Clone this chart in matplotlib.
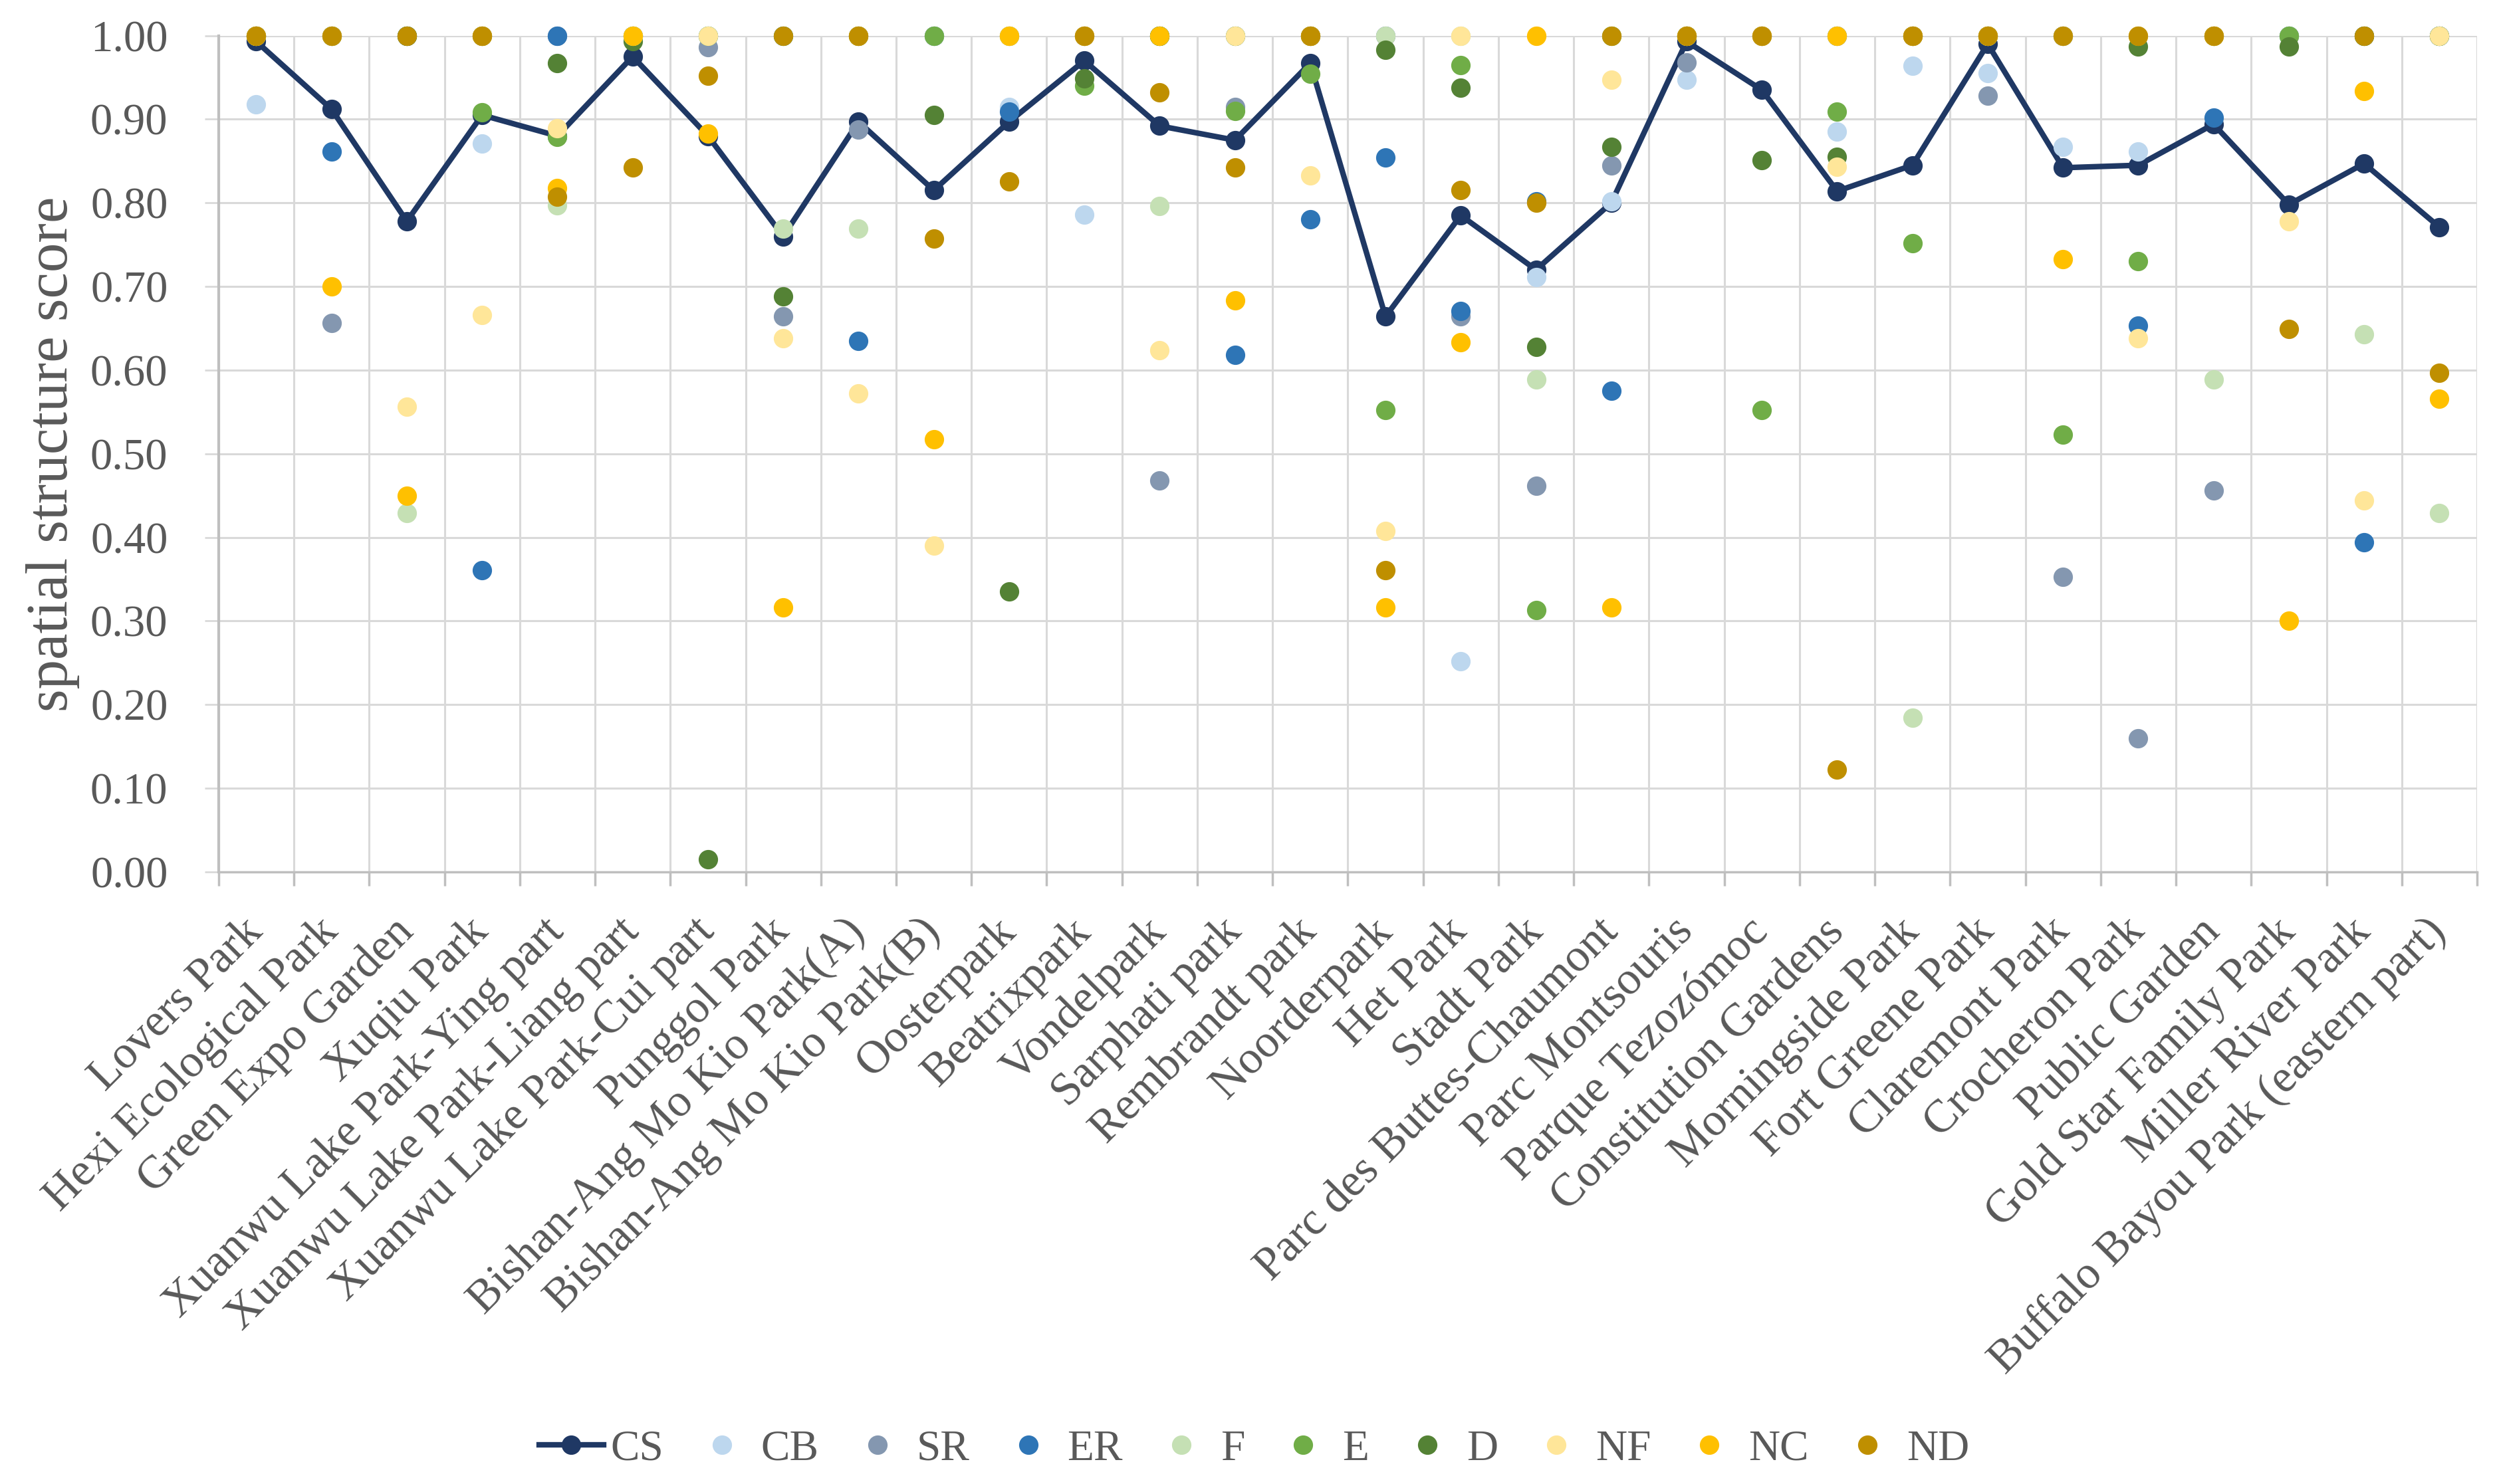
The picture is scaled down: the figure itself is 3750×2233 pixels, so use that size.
import matplotlib
matplotlib.use("Agg")
import matplotlib.pyplot as plt
from matplotlib.lines import Line2D
import numpy as np

plt.rcParams['font.family'] = ['Liberation Serif', 'DejaVu Serif']

parks = ["Lovers Park", "Hexi Ecological Park", "Green Expo Garden", "Xuqiu Park",
         "Xuanwu Lake Park-Ying part", "Xuanwu Lake Park-Liang part", "Xuanwu Lake Park-Cui part",
         "Punggol Park", "Bishan-Ang Mo Kio Park(A)", "Bishan-Ang Mo Kio Park(B)",
         "Oosterpark", "Beatrixpark", "Vondelpark", "Sarphati park", "Rembrandt park",
         "Noorderpark", "Het Park", "Stadt Park", "Parc des Buttes-Chaumont", "Parc Montsouris",
         "Parque Tezozómoc", "Constitution Gardens", "Morningside Park", "Fort Greene Park",
         "Claremont Park", "Crocheron Park", "Public Garden", "Gold Star Family Park",
         "Miller River Park", "Buffalo Bayou Park (eastern part)"]

CS = [0.993, 0.912, 0.778, 0.905, 0.880, 0.975, 0.880, 0.760, 0.897, 0.815,
      0.897, 0.970, 0.892, 0.875, 0.967, 0.664, 0.785, 0.720, 0.800, 0.993,
      0.935, 0.814, 0.845, 0.990, 0.842, 0.845, 0.894, 0.798, 0.847, 0.771]
CB = [0.918, 1, 1, 0.871, 1, 1, 1, 1, 1, 1,
      0.915, 0.786, 1, 1, 1, 1, 0.252, 0.711, 0.802, 0.947,
      1, 0.885, 0.964, 0.955, 0.867, 0.861, 1, 1, 1, 1]
SR = [1, 0.656, 1, 1, 1, 1, 0.986, 0.664, 0.888, 1,
      1, 1, 0.468, 0.915, 1, 1, 0.664, 0.462, 0.845, 0.968,
      1, 1, 1, 0.928, 0.353, 0.160, 0.456, 1, 1, 1]
ER = [1, 0.861, 1, 0.361, 1, 1, 1, 1, 0.635, 1,
      0.909, 1, 1, 0.618, 0.780, 0.854, 0.671, 0.802, 0.575, 1,
      1, 1, 1, 1, 1, 0.653, 0.902, 1, 0.394, 1]
F = [1, 1, 0.429, 1, 0.797, 1, 1, 0.769, 0.769, 1,
     1, 1, 0.796, 1, 1, 1, 1, 0.589, 1, 1,
     1, 1, 0.184, 1, 1, 1, 0.589, 1, 0.643, 0.429]
E = [1, 1, 1, 0.908, 0.879, 1, 1, 1, 1, 1,
     1, 0.940, 1, 0.910, 0.954, 0.552, 0.965, 0.313, 1, 1,
     0.552, 0.909, 0.752, 1, 0.523, 0.730, 1, 1, 1, 1]
D = [1, 1, 1, 1, 0.967, 0.993, 0.015, 0.688, 1, 0.905,
     0.335, 0.949, 1, 1, 1, 0.983, 0.938, 0.628, 0.867, 1,
     0.851, 0.855, 1, 1, 1, 0.987, 1, 0.987, 1, 1]
NF = [1, 1, 0.556, 0.666, 0.889, 1, 1, 0.638, 0.572, 0.390,
      1, 1, 0.624, 1, 0.833, 0.408, 1, 1, 0.947, 1,
      1, 0.843, 1, 1, 1, 0.638, 1, 0.778, 0.444, 1]
NC = [1, 0.700, 0.450, 1, 0.818, 1, 0.883, 0.316, 1, 0.517,
      1, 1, 1, 0.683, 1, 0.316, 0.633, 1, 0.316, 1,
      1, 1, 1, 1, 0.733, 1, 1, 0.300, 0.934, 0.566]
ND = [1, 1, 1, 1, 0.807, 0.842, 0.952, 1, 1, 0.757,
      0.826, 1, 0.932, 0.842, 1, 0.361, 0.815, 0.800, 1, 1,
      1, 0.122, 1, 1, 1, 1, 1, 0.649, 1, 0.597]

series_names = ["CB", "SR", "ER", "F", "E", "D", "NF", "NC", "ND"]
series_vals = [CB, SR, ER, F, E, D, NF, NC, ND]
series_colors = ["#bdd7ee", "#8497b0", "#2e75b6", "#c5e0b4", "#70ad47",
                 "#548235", "#ffe699", "#ffc000", "#bf8f00"]
cs_color = "#1f3864"
text_color = "#595959"
grid_color = "#d9d9d9"

fig = plt.figure(figsize=(37.5, 22.33), dpi=100)
ax = fig.add_axes([0.0877, 0.4125, 0.9059, 0.5635])

x = np.arange(len(parks))
ms = 20
ax.plot(x, CS, color=cs_color, lw=6, marker='o', ms=ms, mec=cs_color, mfc=cs_color,
        zorder=3, clip_on=False)
for vals, col in zip(series_vals, series_colors):
    ax.plot(x, vals, ls='none', marker='o', ms=ms, mfc=col, mec=col, zorder=4, clip_on=False)

ax.set_xlim(-0.5, len(parks) - 0.5)
ax.set_ylim(0, 1.0)
ax.set_yticks(np.arange(0, 1.001, 0.1))
ax.set_yticklabels([f"{v:.2f}" for v in np.arange(0, 1.001, 0.1)])
ax.set_xticks(x)
ax.set_xticklabels(parks, rotation=45, ha='right', va='center', rotation_mode='anchor')
ax.set_xticks(np.arange(-0.5, len(parks)), minor=True)

ax.tick_params(axis='x', which='major', length=0, pad=58, labelsize=50, labelcolor=text_color)
ax.tick_params(axis='x', which='minor', length=15, width=2.5, color='#bfbfbf', direction='out')
ax.tick_params(axis='y', which='major', length=15, width=2, color=grid_color, pad=40,
               labelsize=48, labelcolor=text_color)

ax.grid(axis='y', which='major', color=grid_color, lw=2.2, zorder=0)
ax.grid(axis='x', which='minor', color=grid_color, lw=2.2, zorder=0)
ax.set_axisbelow(True)

for s in ['top', 'right']:
    ax.spines[s].set_visible(False)
ax.spines['left'].set_color('#bfbfbf')
ax.spines['left'].set_linewidth(3)
ax.spines['bottom'].set_color('#bfbfbf')
ax.spines['bottom'].set_linewidth(2.5)

fig.text(80 / 3750, 0.694, "spatial structure score", rotation=90, ha='center', va='center',
         fontsize=64, color=text_color)

handles = [Line2D([0], [0], color=cs_color, lw=6, marker='o', ms=ms, mfc=cs_color, mec=cs_color)]
for col in series_colors:
    handles.append(Line2D([0], [0], ls='none', marker='o', ms=ms, mfc=col, mec=col))
labels = ["CS"] + series_names
fig.legend(handles, labels, loc='center', bbox_to_anchor=(0.503, 0.0233), ncol=10,
           frameon=False, fontsize=47, handlelength=1.5, handletextpad=0.15,
           columnspacing=0.6, labelcolor=text_color)

fig.savefig("out.png", dpi=100, facecolor='white')
